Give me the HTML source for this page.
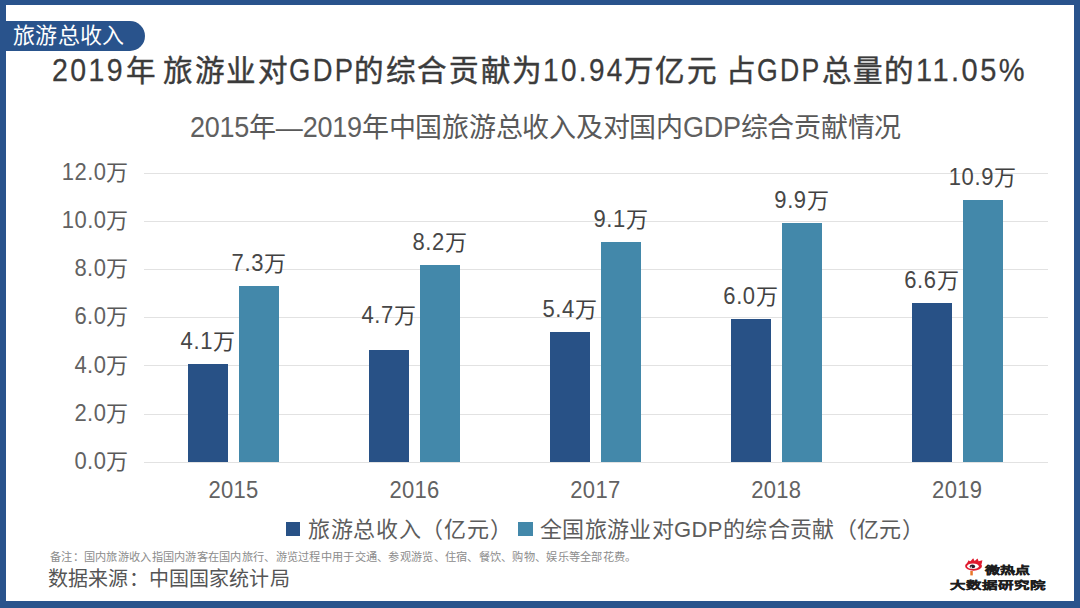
<!DOCTYPE html>
<html lang="zh-CN"><head><meta charset="utf-8">
<style>
html,body{margin:0;padding:0;}
body{width:1080px;height:608px;position:relative;overflow:hidden;background:#fff;font-family:"Liberation Sans",sans-serif;}
.a{position:absolute;white-space:nowrap;}
#frame{position:absolute;left:0;top:0;width:1080px;height:608px;box-sizing:border-box;border-style:solid;border-color:#29538c;border-width:5px 6px 7px 6px;}
#tag{position:absolute;left:0;top:21px;width:145px;height:30px;background:#29538c;border-radius:0 15px 15px 0;}
#tagt{left:12.8px;top:21px;font-size:22px;line-height:30px;color:#fff;letter-spacing:0.4px;}
#title{position:absolute;left:0;top:0;}
.ts{position:absolute;white-space:nowrap;top:53px;font-size:29.6px;line-height:36px;color:#3b3b3b;-webkit-text-stroke:0.45px #3b3b3b;}
.nt{display:inline-block;-webkit-text-stroke:0.25px #3b3b3b;transform-origin:0 28.26px;}
#sub{left:190px;top:110.5px;font-size:27px;line-height:34px;color:#595959;letter-spacing:-0.24px;}
.ns{display:inline-block;transform:scaleY(1.1);transform-origin:50% 26.36px;}
.n{display:inline-block;transform:scaleY(1.1);transform-origin:50% 19.62px;}
.grid{position:absolute;left:143.5px;width:904.5px;height:1px;background:#e2e2e2;}
.yl{position:absolute;width:100px;left:28.7px;text-align:right;letter-spacing:0.4px;font-size:22px;line-height:24px;color:#595959;}
.bar{position:absolute;width:40px;}
.d{background:#285186;}
.l{background:#4388aa;}
.dl{position:absolute;width:120px;text-align:center;letter-spacing:0.6px;font-size:22px;line-height:24px;color:#404040;}
.xl{position:absolute;width:120px;text-align:center;font-size:22px;line-height:24px;color:#595959;letter-spacing:0.3px;}
.sq{position:absolute;width:14.5px;height:14.5px;}
#leg1{left:308px;top:518px;font-size:22px;line-height:24px;color:#5c5c5c;letter-spacing:0.7px;}
#leg2{left:540px;top:518px;font-size:22px;line-height:24px;color:#5c5c5c;letter-spacing:0.35px;}
#note{left:50px;top:549.5px;font-size:11.2px;line-height:14px;color:#8c8c8c;letter-spacing:0.28px;}
#src{left:48px;top:567px;font-size:20px;line-height:24px;color:#555555;letter-spacing:0.15px;}
#logo1{left:985px;top:562.5px;font-size:15px;line-height:20px;color:#1e1e1e;font-weight:bold;-webkit-text-stroke:0.5px #1e1e1e;transform:scaleY(0.72);transform-origin:0 0;}
#logo2{left:950px;top:579px;font-size:15.5px;line-height:20px;color:#1e1e1e;font-weight:bold;-webkit-text-stroke:0.5px #1e1e1e;transform:scaleY(0.68);transform-origin:0 0;}
.yl .n,.xl .n{color:#626262;}
.ns{color:#606060;}
.dl .n{color:#474747;}
</style></head><body>
<div id="frame"></div>
<div id="tag"></div>
<div class="a" id="tagt">旅游总收入</div>
<div id="title"><div class="ts" style="left:52.10px;letter-spacing:2.50px"><span class="nt" style="transform:scale(0.964,1.07)">2019</span></div><div class="ts" style="left:125.90px;letter-spacing:2.00px">年</div><div class="ts" style="left:162.70px;letter-spacing:1.82px">旅游业对</div><div class="ts" style="left:288.60px;letter-spacing:2.50px"><span class="nt" style="transform:scale(0.926,1.07)">GDP</span></div><div class="ts" style="left:354.10px;letter-spacing:1.64px">的综合贡献为</div><div class="ts" style="left:543.20px;letter-spacing:2.50px"><span class="nt" style="transform:scale(0.944,1.07)">10.94</span></div><div class="ts" style="left:624.00px;letter-spacing:1.37px">万亿元</div><div class="ts" style="left:726.00px;letter-spacing:2.00px">占</div><div class="ts" style="left:756.60px;letter-spacing:2.50px"><span class="nt" style="transform:scale(0.899,1.07)">GDP</span></div><div class="ts" style="left:821.90px;letter-spacing:1.01px">总量的</div><div class="ts" style="left:916.00px;letter-spacing:2.50px"><span class="nt" style="transform:scale(0.981,1.07)">11.05%</span></div></div>
<div class="a" id="sub"><span class="ns">2015</span>年—<span class="ns">2019</span>年中国旅游总收入及对国内<span class="ns">GDP</span>综合贡献情况</div>
<div class="grid" style="top:172.5px"></div>
<div class="grid" style="top:220.7px"></div>
<div class="grid" style="top:268.9px"></div>
<div class="grid" style="top:317.1px"></div>
<div class="grid" style="top:365.3px"></div>
<div class="grid" style="top:413.5px"></div>
<div class="grid" style="top:461.7px"></div>
<div class="yl" style="top:160.7px"><span class="n">12.0</span>万</div>
<div class="yl" style="top:208.9px"><span class="n">10.0</span>万</div>
<div class="yl" style="top:257.1px"><span class="n">8.0</span>万</div>
<div class="yl" style="top:305.3px"><span class="n">6.0</span>万</div>
<div class="yl" style="top:353.5px"><span class="n">4.0</span>万</div>
<div class="yl" style="top:401.7px"><span class="n">2.0</span>万</div>
<div class="yl" style="top:449.9px"><span class="n">0.0</span>万</div>
<div class="bar d" style="left:188.1px;top:363.6px;height:98.6px"></div>
<div class="bar l" style="left:239.1px;top:285.6px;height:176.6px"></div>
<div class="bar d" style="left:369.0px;top:349.9px;height:112.3px"></div>
<div class="bar l" style="left:420.0px;top:265.2px;height:197.0px"></div>
<div class="bar d" style="left:549.9px;top:332.2px;height:130.0px"></div>
<div class="bar l" style="left:600.9px;top:242.2px;height:220.0px"></div>
<div class="bar d" style="left:730.8px;top:318.9px;height:143.3px"></div>
<div class="bar l" style="left:781.8px;top:223.3px;height:238.9px"></div>
<div class="bar d" style="left:911.7px;top:302.7px;height:159.5px"></div>
<div class="bar l" style="left:962.7px;top:200.0px;height:262.2px"></div>
<div class="dl" style="left:148.1px;top:329.6px"><span class="n">4.1</span>万</div>
<div class="dl" style="left:199.1px;top:251.6px"><span class="n">7.3</span>万</div>
<div class="dl" style="left:329.0px;top:304.4px"><span class="n">4.7</span>万</div>
<div class="dl" style="left:380.0px;top:231.2px"><span class="n">8.2</span>万</div>
<div class="dl" style="left:509.9px;top:298.2px"><span class="n">5.4</span>万</div>
<div class="dl" style="left:560.9px;top:208.2px"><span class="n">9.1</span>万</div>
<div class="dl" style="left:690.8px;top:284.9px"><span class="n">6.0</span>万</div>
<div class="dl" style="left:741.8px;top:189.3px"><span class="n">9.9</span>万</div>
<div class="dl" style="left:871.7px;top:268.7px"><span class="n">6.6</span>万</div>
<div class="dl" style="left:922.7px;top:166.0px"><span class="n">10.9</span>万</div>
<div class="xl" style="left:173.6px;top:479px"><span class="n">2015</span></div>
<div class="xl" style="left:354.5px;top:479px"><span class="n">2016</span></div>
<div class="xl" style="left:535.4px;top:479px"><span class="n">2017</span></div>
<div class="xl" style="left:716.3px;top:479px"><span class="n">2018</span></div>
<div class="xl" style="left:897.2px;top:479px"><span class="n">2019</span></div>
<div class="sq" style="left:285.8px;top:521.5px;background:#285186"></div>
<div class="a" id="leg1">旅游总收入（亿元）</div>
<div class="sq" style="left:518.3px;top:521.5px;background:#4388aa"></div>
<div class="a" id="leg2">全国旅游业对GDP的综合贡献（亿元）</div>
<div class="a" id="note">备注：国内旅游收入指国内游客在国内旅行、游览过程中用于交通、参观游览、住宿、餐饮、购物、娱乐等全部花费。</div>
<div class="a" id="src">数据来源：中国国家统计局</div>
<svg style="position:absolute;left:960px;top:554px" width="30" height="26" viewBox="0 0 30 26">
<path d="M7 9.5 L8.6 6.2 L10.2 7.6 L13.2 4.2 L14.6 6.9 L17.6 4.6 L18.6 7.2 L22.4 6.2 L21.6 10 Z" fill="#e01a2e"/>
<ellipse cx="13.55" cy="12" rx="8.45" ry="4.75" fill="#e01a2e"/>
<ellipse cx="12.95" cy="12.2" rx="5.85" ry="2.8" fill="#fff"/>
<ellipse cx="12.4" cy="12.4" rx="2.7" ry="1.95" fill="#2b1d2b"/>
<circle cx="11.2" cy="13.2" r="0.75" fill="#fff"/>
<rect x="10.3" y="17" width="2.5" height="4.4" fill="#e9772a"/>
</svg>
<div class="a" id="logo1">微热点</div>
<div class="a" id="logo2">大数据研究院</div>
</body></html>
